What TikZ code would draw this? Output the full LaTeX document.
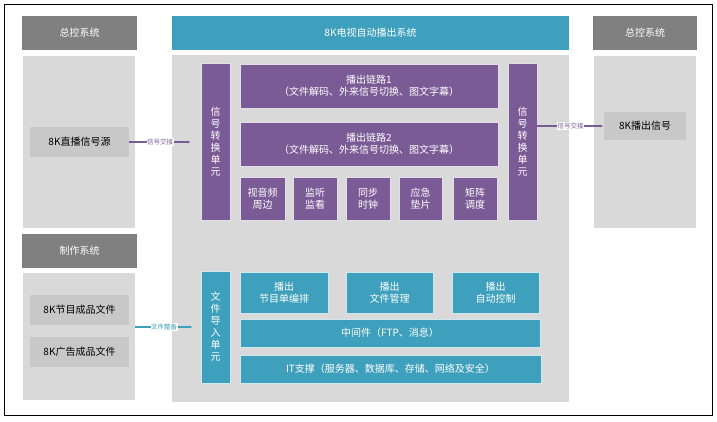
\documentclass[tikz,border=0pt]{standalone}
\usepackage{fontspec}
\setmainfont{Noto Sans CJK SC}
\usetikzlibrary{arrows.meta}
\definecolor{hdgray}{HTML}{808080}
\definecolor{pan}{HTML}{D9D9D9}
\definecolor{nod}{HTML}{C8C8C8}
\definecolor{teal}{HTML}{3EA0BC}
\definecolor{purp}{HTML}{7B5B96}
\tikzset{
 box/.style={inner sep=0pt,align=center,font=\fontsize{10}{12}\selectfont},
 hdr/.style={box,fill=hdgray,text=white},
 panel/.style={fill=pan},
 gnode/.style={box,fill=nod,text=black},
 pbox/.style={box,fill=purp,text=white,draw=white!80!purp,line width=0.8pt},
 tbox/.style={box,fill=teal,text=white,draw=white!75!teal,line width=0.8pt},
 lab/.style={font=\fontsize{6.5}{7}\selectfont,fill=white,inner sep=0.5pt},
}
\newcommand{\bx}[5]{\node[#1,minimum width=#4-#2,minimum height=1] (#5) at ({(#2+#4)/2},0) {};}
\begin{document}
\begin{tikzpicture}[x=1pt,y=-1pt]
\useasboundingbox (0,0) rectangle (717,421);
\draw[line width=0.8pt] (4,4) rectangle (712,415);
% helper: rect nodes by corners
\def\R#1#2#3#4#5#6#7{\node[#1,minimum width=#4-#2,minimum height=#5-#3] (#6) at ({(#2+#4)/2},{(#3+#5)/2}) {#7};}
\R{hdr}{22}{16}{137}{50}{hl}{总控系统}
\R{panel}{23}{56}{135}{228}{pl}{}
\R{gnode}{30}{127}{129}{157}{src}{8K直播信号源}
\R{hdr}{22}{234}{137}{268}{hp}{制作系统}
\R{panel}{23}{273}{135}{400}{pp}{}
\R{gnode}{30}{295}{129}{325}{f1}{8K节目成品文件}
\R{gnode}{30}{337}{129}{367}{f2}{8K广告成品文件}
\R{hdr,fill=teal}{172}{16}{569}{50}{hc}{8K电视自动播出系统}
\R{panel}{172}{55}{569}{402}{pc}{}
\R{pbox}{201}{63}{230}{220}{cvl}{信\\号\\转\\换\\单\\元}
\R{pbox}{240}{64}{498}{108}{l1}{播出链路1\\（文件解码、外来信号切换、图文字幕）}
\R{pbox}{240}{122}{498}{166}{l2}{播出链路2\\（文件解码、外来信号切换、图文字幕）}
\R{pbox}{240}{177}{285}{220}{s1}{视音频\\周边}
\R{pbox}{293}{177}{337}{220}{s2}{监听\\监看}
\R{pbox}{346}{177}{390}{220}{s3}{同步\\时钟}
\R{pbox}{399}{177}{442}{220}{s4}{应急\\垫片}
\R{pbox}{453}{177}{497}{220}{s5}{矩阵\\调度}
\R{pbox}{508}{63}{537}{220}{cvr}{信\\号\\转\\换\\单\\元}
\R{tbox}{201}{271}{230}{383}{imp}{文\\件\\导\\入\\单\\元}
\R{tbox}{240}{272}{328}{313}{t1}{播出\\节目单编排}
\R{tbox}{346}{272}{433}{313}{t2}{播出\\文件管理}
\R{tbox}{452}{272}{539}{313}{t3}{播出\\自动控制}
\R{tbox}{240}{319}{540}{347}{mid}{中间件（FTP、消息）}
\R{tbox}{240}{355}{541}{383}{it}{IT支撑（服务器、数据库、存储、网络及安全）}
\R{hdr}{593}{16}{697}{50}{hr}{总控系统}
\R{panel}{594}{56}{696}{228}{pr}{}
\R{gnode}{604}{112}{686}{140}{out}{8K播出信号}
\coordinate (a1) at (191,142);
\draw[purp,line width=1.2pt,-{Latex[length=4pt]}] (src.east|-a1) -- node[lab]{信号交接} (a1);
\draw[purp,line width=1.2pt,-{Latex[length=4pt]}] (cvr.east|-out) -- node[lab]{信号交接} (out.west);
\coordinate (a3) at (193,327);
\draw[teal,line width=1.2pt,-{Latex[length=4pt]}] (pp.east|-a3) -- node[lab]{文件整备} (a3);
\end{tikzpicture}
\end{document}
